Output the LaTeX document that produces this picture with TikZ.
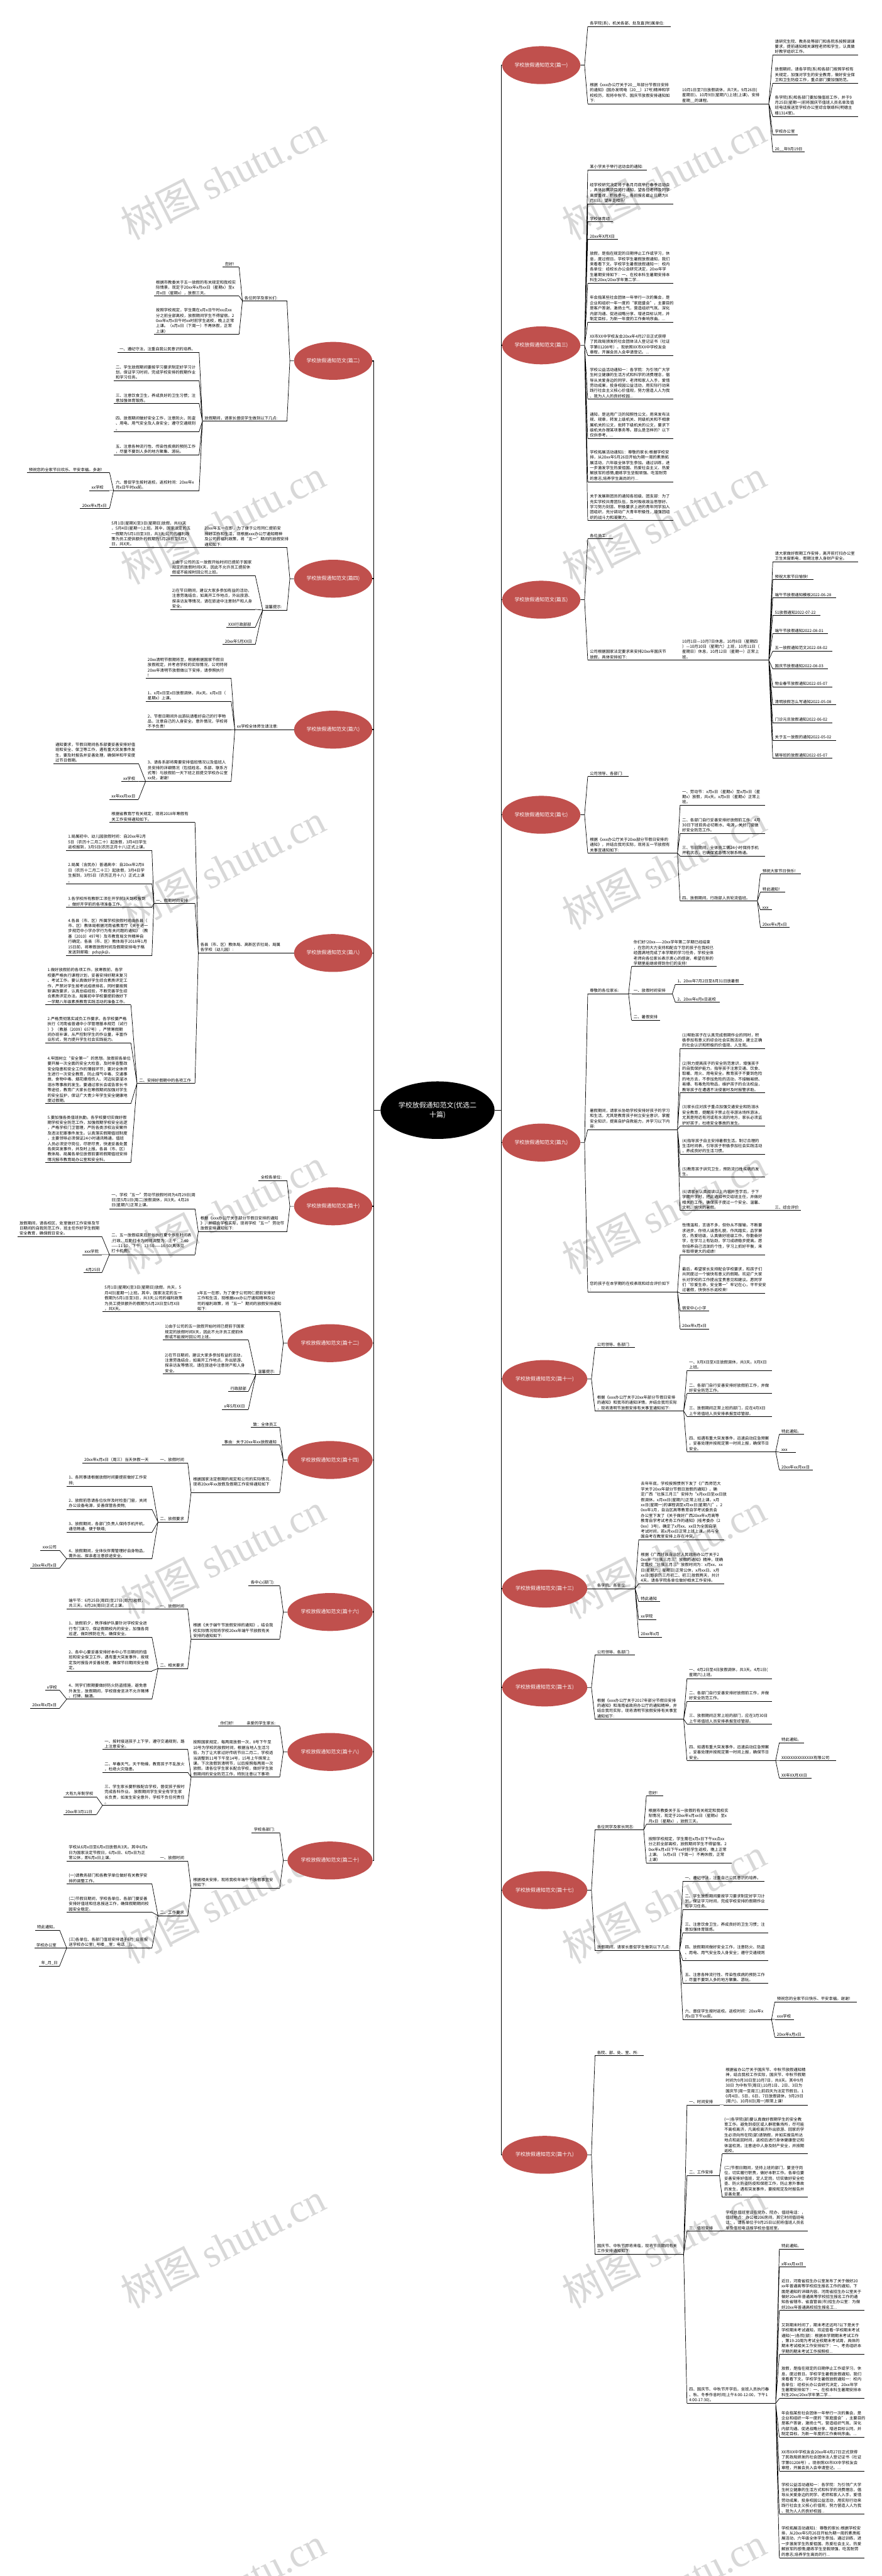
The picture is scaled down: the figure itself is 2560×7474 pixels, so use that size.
\documentclass[tikz,border=0pt]{standalone}
\usepackage{fontspec}
\setmainfont{Noto Sans CJK SC}
\newfontfamily\wmlatin{Liberation Serif}
\usetikzlibrary{shapes.geometric}
\definecolor{topicred}{RGB}{192,80,77}
\definecolor{wmgray}{RGB}{216,216,216}
\newcommand{\leaffont}{\fontsize{11.6}{15.3}\selectfont}
\tikzset{
  uline/.style={line width=1.3pt},
  link/.style={line width=1.3pt},
  spine/.style={line width=2.6pt},
  leaf/.style={font=\leaffont, align=left, inner xsep=6pt, inner ysep=3pt, text width=#1,
    append after command={(\tikzlastnode.south west) edge[uline] (\tikzlastnode.south east)}},
  rl/.style={leaf=#1, anchor=south west},
  ll/.style={leaf=#1, anchor=south east},
  topic/.style={ellipse, fill=topicred, text=white, font=\fontsize{14.5}{17}\selectfont, minimum width=227pt, minimum height=110pt, inner sep=0pt},
  wtopic/.style={topic, minimum width=247pt},
  root/.style={ellipse, fill=black, text=white, align=center, font=\fontsize{20}{27}\selectfont, minimum width=331pt, minimum height=167pt, inner sep=0pt},
  wmark/.style={rotate=27, text=wmgray, font=\fontsize{115}{115}\selectfont}
}
\begin{document}
\begin{tikzpicture}[x=1pt,y=-1pt]
\fill[white] (0,0) rectangle (2560,7474);
\useasboundingbox (0,0) rectangle (2560,7474);
\node[wmark] (wm1) at (647,514) {树图 {\wmlatin shutu.cn}};
\node[wmark] (wm2) at (1927,514) {树图 {\wmlatin shutu.cn}};
\node[wmark] (wm3) at (647,1514) {树图 {\wmlatin shutu.cn}};
\node[wmark] (wm4) at (1927,1514) {树图 {\wmlatin shutu.cn}};
\node[wmark] (wm5) at (647,2514) {树图 {\wmlatin shutu.cn}};
\node[wmark] (wm6) at (1927,2514) {树图 {\wmlatin shutu.cn}};
\node[wmark] (wm7) at (647,3514) {树图 {\wmlatin shutu.cn}};
\node[wmark] (wm8) at (1927,3514) {树图 {\wmlatin shutu.cn}};
\node[wmark] (wm9) at (647,4514) {树图 {\wmlatin shutu.cn}};
\node[wmark] (wm10) at (1927,4514) {树图 {\wmlatin shutu.cn}};
\node[wmark] (wm11) at (647,5514) {树图 {\wmlatin shutu.cn}};
\node[wmark] (wm12) at (1927,5514) {树图 {\wmlatin shutu.cn}};
\node[wmark] (wm13) at (647,6514) {树图 {\wmlatin shutu.cn}};
\node[wmark] (wm14) at (1927,6514) {树图 {\wmlatin shutu.cn}};
\node[wmark] (wm15) at (647,7514) {树图 {\wmlatin shutu.cn}};
\node[wmark] (wm16) at (1927,7514) {树图 {\wmlatin shutu.cn}};

\node[root] (root) at (1270,3221) {学校放假通知范文(优选二\\十篇)};
\node[topic] (t1) at (1571,189) {学校放假通知范文(篇一)};
\node[topic] (t3) at (1571,1002) {学校放假通知范文(篇三)};
\node[topic] (t5) at (1571,1740) {学校放假通知范文(篇五)};
\node[topic] (t7) at (1571,2364) {学校放假通知范文(篇七)};
\node[topic] (t9) at (1571,3315) {学校放假通知范文(篇九)};
\node[wtopic] (t11) at (1581,4001) {学校放假通知范文(篇十一)};
\node[wtopic] (t13) at (1581,4609) {学校放假通知范文(篇十三)};
\node[wtopic] (t15) at (1581,4896) {学校放假通知范文(篇十五)};
\node[wtopic] (t17) at (1581,5484) {学校放假通知范文(篇十七)};
\node[wtopic] (t19) at (1581,6252) {学校放假通知范文(篇十九)};
\node[topic] (t2) at (967,1047) {学校放假通知范文(篇二)};
\node[topic] (t4) at (967,1679) {学校放假通知范文(篇四)};
\node[topic] (t6) at (967,2117) {学校放假通知范文(篇六)};
\node[topic] (t8) at (967,2765) {学校放假通知范文(篇八)};
\node[topic] (t10) at (967,3500) {学校放假通知范文(篇十)};
\node[wtopic] (t12) at (958,3897) {学校放假通知范文(篇十二)};
\node[wtopic] (t14) at (958,4236) {学校放假通知范文(篇十四)};
\node[wtopic] (t16) at (958,4677) {学校放假通知范文(篇十六)};
\node[wtopic] (t18) at (958,5083) {学校放假通知范文(篇十八)};
\node[wtopic] (t20) at (958,5398) {学校放假通知范文(篇二十)};

\draw[spine] (root.east) -- ++(20,0) |- (t1.west) (root.east) -- ++(20,0) |- (t3.west) (root.east) -- ++(20,0) |- (t5.west) (root.east) -- ++(20,0) |- (t7.west) (root.east) -- ++(20,0) |- (t9.west);
\draw[spine] (root.east) -- ++(20,0) |- (t11.west) (root.east) -- ++(20,0) |- (t13.west) (root.east) -- ++(20,0) |- (t15.west) (root.east) -- ++(20,0) |- (t17.west) (root.east) -- ++(20,0) |- (t19.west);
\draw[spine] (root.west) -- ++(-20,0) |- (t2.east) (root.west) -- ++(-20,0) |- (t4.east) (root.west) -- ++(-20,0) |- (t6.east) (root.west) -- ++(-20,0) |- (t8.east) (root.west) -- ++(-20,0) |- (t10.east);
\draw[spine] (root.west) -- ++(-20,0) |- (t12.east) (root.west) -- ++(-20,0) |- (t14.east) (root.west) -- ++(-20,0) |- (t16.east) (root.west) -- ++(-20,0) |- (t18.east) (root.west) -- ++(-20,0) |- (t20.east);

\node[rl=228pt] (t1a) at (1706,77) {各学院(系)，机关各部、处及直(附)属单位:};
\node[rl=248pt] (t1b) at (1706,301) {根据《xxx办公厅关于20\_\_年部分节假日安排\\的通知》(国办发明电〔20\_\_〕17号)精神和学\\校校历，现将中秋节、国庆节放假安排通知如\\下:};
\node[rl=245pt] (t1b1) at (1974,301) {10月1日至7日放假调休，共7天。9月26日(\\星期日)、10月9日(星期六)上班(上课)，安排\\星期\_\_的课程。};
\node[rl=235pt] (t1b1a) at (2243,159) {请研究生院、教务处等部门和各院系按照调课\\要求，提前通知相关课程老师和学生，认真做\\好教学组织工作。};
\node[rl=235pt] (t1b1b) at (2243,241) {放假期间，请各学院(系)和各部门按照学校有\\关规定，加强对学生的安全教育，做好安全保\\卫和卫生防疫工作，重点部门要加强防范。};
\node[rl=235pt] (t1b1c) at (2243,338) {各学院(系)和各部门要加强值班工作，并于9\\月25日(星期一)前将国庆节值班人员名单及值\\班电话报送至学校办公室综合联络科(明德主\\楼1314室)。};
\node[rl=60pt] (t1b1d) at (2243,391) {学校办公室};
\node[rl=80pt] (t1b1e) at (2243,441) {20\_\_年9月19日};
\draw[link] (t1.east) -- ++(12,0) -- (t1a.south west) (t1.east) -- ++(12,0) -- (t1b.south west);
\draw[link] (t1b.south east) -- (t1b1.south west);
\draw[link] (t1b1.south east) -- (t1b1a.south west) (t1b1.south east) -- (t1b1b.south west) (t1b1.south east) -- (t1b1c.south west) (t1b1.south east) -- (t1b1d.south west) (t1b1.south east) -- (t1b1e.south west);

\node[rl=160pt] (t3a) at (1706,493) {某小学关于举行运动会的通知:};
\node[rl=235pt] (t3b) at (1706,591) {经学校研究决定将于本月月底举行春季运动会\\，具体比赛项目另行通知，望各位老师及同学\\高度重视，积极参与，各班报名截止日期为X\\月X日。望奔走相告!};
\node[rl=60pt] (t3c) at (1706,643) {学校体育组};
\node[rl=76pt] (t3d) at (1706,694) {20xx年X月X日};
\node[rl=235pt] (t3e) at (1706,822) {放假，是指在规定的日期停止工作或学习，休\\息，度过假日。学校学生暑假放假通知，我们\\来看看下文。学校学生暑假放假通知一：校内\\各单位：经校长办公会研究决定，20xx年学\\生暑期安排如下：一、在校本科生暑期安排本\\科生20xx/20xx学年第二学...};
\node[rl=235pt] (t3f) at (1706,934) {年会指某些社会团体一年举行一次的集会，是\\企业和组织一年一度的“家庭盛会”，主要目的\\是客户答谢，激扬士气，营造组织气氛、深化\\内部沟通、促进战略分享、增进目标认同，并\\制定目标，为新一年度的工作奏响序曲。...};
\node[rl=235pt] (t3g) at (1706,1031) {XX市XX中学校友会20xx年4月27日正式获得\\了民政局颁发的社会团体法人登记证书（社证\\字第01208号）。现依照XX市XX中学校友会\\章程，开展会员入会申请登记。...};
\node[rl=235pt] (t3h) at (1706,1158) {学校公益活动通知一：各学院：为引领广大学\\生树立健康的生活方式和科学的消费理念，倡\\导从关爱身边的同学、老师和家人入手，爱惜\\劳动成果，投身校园公益活动，用实际行动来\\践行社会主义核心价值观，努力营造人人为我\\、我为人人的良好校园...};
\node[rl=235pt] (t3i) at (1706,1272) {通知，是运用广泛的知照性公文。用来发布法\\规、规章，转发上级机关、同级机关和不相隶\\属机关的公文，批转下级机关的公文，要求下\\级机关办理某项事务等。那么是怎样的？以下\\仅供参考。...};
\node[rl=235pt] (t3j) at (1706,1398) {学校拓展活动通知1：尊敬的家长:根据学校安\\排，从20xx年5月26日开始为期一周的素质拓\\展活动，六年级全体学生参加。通过训练，进\\一步激发学生热爱祖国、热爱社会主义、热爱\\解放军的感情;磨练学生坚毅顽强、吃苦耐劳\\的意志;培养学生高尚的行...};
\node[rl=235pt] (t3k) at (1706,1510) {关于发展新团员的通知各班级、团支部：为了\\充实学校共青团队伍，及时吸收政治思想好、\\学习努力刻苦、积极要求上进的青年同学加入\\团组织，充分调动广大青年积极性，增强团组\\织的战斗力和凝聚力。...};
\draw[link] (t3.east) -- ++(12,0) -- (t3a.south west) (t3.east) -- ++(12,0) -- (t3b.south west) (t3.east) -- ++(12,0) -- (t3c.south west) (t3.east) -- ++(12,0) -- (t3d.south west) (t3.east) -- ++(12,0) -- (t3e.south west) (t3.east) -- ++(12,0) -- (t3f.south west);
\draw[link] (t3.east) -- ++(12,0) -- (t3g.south west) (t3.east) -- ++(12,0) -- (t3h.south west) (t3.east) -- ++(12,0) -- (t3i.south west) (t3.east) -- ++(12,0) -- (t3j.south west) (t3.east) -- ++(12,0) -- (t3k.south west);

\node[rl=60pt] (t5a) at (1706,1563) {各位员工:};
\node[rl=248pt] (t5b) at (1706,1915) {公司根据国家法定要求来安排20xx年国庆节\\放假，具体安排如下:};
\node[rl=245pt] (t5b1) at (1974,1915) {10月1日—10月7日休息，10月8日（星期四\\）—10月10日（星期六）上班，10月11日（\\星期日）休息，10月12日（星期一）正常上\\班。};
\node[rl=235pt] (t5b1a) at (2243,1630) {请大家做好假期工作安排，离开前打扫办公室\\卫生关窗断电，假期注意人身财产安全。};
\node[rl=105pt] (t5b1b) at (2243,1682) {预祝大家节日愉快!};
\node[rl=171pt] (t5b1c) at (2243,1734) {端午节放假通知模板2022-06-28};
\node[rl=126pt] (t5b1d) at (2243,1786) {51放假通知2022-07-22};
\node[rl=147pt] (t5b1e) at (2243,1838) {端午节放假通知2022-08-01};
\node[rl=160pt] (t5b1f) at (2243,1889) {五一放假通知范文2022-08-02};
\node[rl=147pt] (t5b1g) at (2243,1941) {国庆节放假通知2022-08-03};
\node[rl=160pt] (t5b1h) at (2243,1993) {物业春节放假通知2022-05-07};
\node[rl=171pt] (t5b1i) at (2243,2045) {清明放假怎么写通知2022-05-08};
\node[rl=160pt] (t5b1j) at (2243,2097) {门诊元旦放假通知2022-06-02};
\node[rl=171pt] (t5b1k) at (2243,2148) {关于五一放假的通知2022-05-02};
\node[rl=160pt] (t5b1l) at (2243,2200) {辅导班的放假通知2022-05-07};
\draw[link] (t5.east) -- ++(12,0) -- (t5a.south west) (t5.east) -- ++(12,0) -- (t5b.south west);
\draw[link] (t5b.south east) -- (t5b1.south west);
\draw[link] (t5b1.south east) -- (t5b1a.south west) (t5b1.south east) -- (t5b1b.south west) (t5b1.south east) -- (t5b1c.south west) (t5b1.south east) -- (t5b1d.south west) (t5b1.south east) -- (t5b1e.south west) (t5b1.south east) -- (t5b1f.south west);
\draw[link] (t5b1.south east) -- (t5b1g.south west) (t5b1.south east) -- (t5b1h.south west) (t5b1.south east) -- (t5b1i.south west) (t5b1.south east) -- (t5b1j.south west) (t5b1.south east) -- (t5b1k.south west) (t5b1.south east) -- (t5b1l.south west);

\node[rl=106pt] (t7a) at (1706,2253) {公司领导、各部门:};
\node[rl=248pt] (t7b) at (1706,2475) {根据《xxx办公厅关于20xx部分节假日安排的\\通知》，并结合我司实际，现将五一节放假有\\关事宜通知如下:};
\node[rl=235pt] (t7b1) at (1974,2336) {一、劳动节：x月x日（星期x）至x月x日（星\\期x）放假，共x天。x月x日（星期x）正常上\\班。};
\node[rl=235pt] (t7b2) at (1974,2418) {二、各部门自行妥善安排好放假前工作，4月\\30日下班前务必切断水、电源，关好门窗做\\好安全防范工作。};
\node[rl=235pt] (t7b3) at (1974,2484) {三、节日期间，全体员工需24小时保持手机\\开机状态，已确保紧急情况联系畅通。};
\node[rl=212pt] (t7b4) at (1974,2614) {四、放假期间，行政部人员轮流值班。};
\node[rl=106pt] (t7b4a) at (2207,2536) {预祝大家节日快乐!};
\node[rl=59pt] (t7b4b) at (2207,2588) {特此通知!};
\node[rl=22pt] (t7b4c) at (2207,2640) {xxx};
\node[rl=73pt] (t7b4d) at (2207,2691) {20xx年x月x日};
\draw[link] (t7.east) -- ++(12,0) -- (t7a.south west) (t7.east) -- ++(12,0) -- (t7b.south west);
\draw[link] (t7b.south east) -- (t7b1.south west) (t7b.south east) -- (t7b2.south west) (t7b.south east) -- (t7b3.south west) (t7b.south east) -- (t7b4.south west);
\draw[link] (t7b4.south east) -- (t7b4a.south west) (t7b4.south east) -- (t7b4b.south west) (t7b4.south east) -- (t7b4c.south west) (t7b4.south east) -- (t7b4d.south west);

\node[rl=106pt] (t9a) at (1706,2883) {尊敬的各位家长:};
\node[rl=235pt] (t9a1) at (1833,2804) {你们好!20xx——20xx学年第二学期已经结束\\，在您的大力支持和配合下您的孩子在我校已\\经圆满地完成了本学期的学习任务，学校全体\\老师向各位家长表示衷心的感谢，希望在新的\\学期里能继续得到你们的支持!};
\node[rl=106pt] (t9a2) at (1833,2883) {一、放假时间安排};
\node[rl=186pt] (t9a2a) at (1960,2856) {1、20xx年7月2日至8月31日放暑假};
\node[rl=116pt] (t9a2b) at (1960,2908) {2、20xx年x月x日返校};
\node[rl=71pt] (t9a3) at (1833,2960) {二、暑假安排};
\node[rl=248pt] (t9b) at (1706,3277) {暑假期间，请家长协助学校安排好孩子的学习\\和生活，尤其是教育孩子树立安全意识，掌握\\安全知识，提高自护自救能力，并学习以下内\\容:};
\node[rl=235pt] (t9b1) at (1974,3042) {(1)帮助孩子在认真完成假期作业的同时，积\\极参加有意义的综合社会实践活动，建立正确\\的社会认识和积极的价值观、人生观。};
\node[rl=235pt] (t9b2) at (1974,3170) {(2)努力提高孩子的安全防范意识，增强孩子\\的自我保护能力。指导孩子注意交通、饮食、\\取暖、用火、用电安全。教育孩子不要到危险\\的地方去，不参加危险的活动，不接触易燃、\\易爆、有毒危险物品，维护孩子的合法权益，\\教导孩子在遭遇不法侵害时及时报警求助。};
\node[rl=235pt] (t9b3) at (1974,3267) {(3)家长应对孩子重点加强交通安全和防溺水\\安全教育，提醒孩子禁止在非游泳场所游泳，\\尤其是附近有河或有水流的地方，家长必须监\\护好孩子，杜绝安全事故的发生。};
\node[rl=235pt] (t9b4) at (1974,3349) {(4)指导孩子自主安排暑假生活。制订合理的\\生活时间表，引导孩子积极参加社会实践活动\\，养成良好的生活习惯。};
\node[rl=235pt] (t9b5) at (1974,3415) {(5)教育孩子讲究卫生，预防流行性疾病的发\\生。};
\node[rl=245pt] (t9b6) at (1974,3512) {(6)请家长认真阅读以上内容并签字后，于下\\学期开学时，把此通知书交给班主任，并做好\\相关的工作，确保孩子度过一个安全、温馨、\\文明、愉快的暑假。};
\node[rl=70pt] (t9b6a) at (2243,3512) {三、综合评价};
\node[rl=248pt] (t9c) at (1706,3748) {您的孩子在本学期的在校表现和综合评价如下\\:};
\node[rl=235pt] (t9c1) at (1974,3640) {性情温和，言语不多，但你从不服输，不断要\\求进步。你待人诚恳礼貌，作风踏实，品学兼\\优，热爱班级，认真做好班级工作。你勤奋好\\学，在学习上有钻劲，学习成绩稳步提高。愿\\你培养自己活泼的个性，学习上抓好平衡，来\\年取得更大的成绩!};
\node[rl=235pt] (t9c2) at (1974,3752) {最后，希望家长支持配合学校要求，和孩子们\\共同度过一个愉快有意义的假期。欢迎广大家\\长对学校的工作提出宝贵意见和建议。愿同学\\们“珍爱生命，安全第一”牢记在心，平平安安\\过暑假，快快乐乐返校来!};
\node[rl=71pt] (t9c3) at (1974,3804) {宿安中心小学};
\node[rl=71pt] (t9c4) at (1974,3856) {20xx年x月x日};
\draw[link] (t9.east) -- ++(12,0) -- (t9a.south west) (t9.east) -- ++(12,0) -- (t9b.south west) (t9.east) -- ++(12,0) -- (t9c.south west);
\draw[link] (t9a.south east) -- (t9a1.south west) (t9a.south east) -- (t9a2.south west) (t9a.south east) -- (t9a3.south west);
\draw[link] (t9a2.south east) -- (t9a2a.south west) (t9a2.south east) -- (t9a2b.south west);
\draw[link] (t9b.south east) -- (t9b1.south west) (t9b.south east) -- (t9b2.south west) (t9b.south east) -- (t9b3.south west) (t9b.south east) -- (t9b4.south west) (t9b.south east) -- (t9b5.south west) (t9b.south east) -- (t9b6.south west);
\draw[link] (t9b6.south east) -- (t9b6a.south west);
\draw[link] (t9c.south east) -- (t9c1.south west) (t9c.south east) -- (t9c2.south west) (t9c.south east) -- (t9c3.south west) (t9c.south east) -- (t9c4.south west);

\node[rl=104pt] (t11a) at (1727,3909) {公司领导、各部门:};
\node[rl=245pt] (t11b) at (1727,4094) {根据《xxx办公厅关于20xx年部分节假日安排\\的通知》和我市的通知详情，并结合我司实际\\，现将清明节放假安排有关事宜通知如下:};
\node[rl=235pt] (t11b1) at (1994,3976) {一、X月X日至X日放假调休，共3天。X月X日\\上班。};
\node[rl=235pt] (t11b2) at (1994,4043) {二、各部门自行妥善安排好放假前工作，并做\\好安全防范工作。};
\node[rl=235pt] (t11b3) at (1994,4110) {三、放假期间正常上班的部门，应在4月X日\\上午将值班人员安排表报至综管部。};
\node[rl=245pt] (t11b4) at (1994,4212) {四、如遇有重大突发事件，迅速启动应急预案\\，妥善处理并按规定第一时间上报，确保节日\\安全。};
\node[rl=59pt] (t11b4a) at (2262,4161) {特此通知。};
\node[rl=35pt] (t11b4b) at (2262,4213) {xxx};
\node[rl=85pt] (t11b4c) at (2262,4265) {20xx年xx月xx日};
\draw[link] (t11.east) -- ++(12,0) -- (t11a.south west) (t11.east) -- ++(12,0) -- (t11b.south west);
\draw[link] (t11b.south east) -- (t11b1.south west) (t11b.south east) -- (t11b2.south west) (t11b.south east) -- (t11b3.south west) (t11b.south east) -- (t11b4.south west);
\draw[link] (t11b4.south east) -- (t11b4a.south west) (t11b4.south east) -- (t11b4b.south west) (t11b4.south east) -- (t11b4c.south west);

\node[rl=104pt] (t13a) at (1727,4609) {各学院、各单位:};
\node[rl=235pt] (t13a1) at (1854,4467) {去年年底，学校按照惯例下发了《广西师范大\\学关于20xx年部分节假日放假的通知》，确\\定广西“壮族三月三”安排为“x月xx日至xx日放\\假调休。x月xx日(星期六)正常上班上课，x月\\xx日(星期一)的课程调至x月xx日(星期六)”。2\\0xx年1月，自治区高等教育自学考试委员会\\办公室下发了《关于做好广西20xx年x月高等\\教育自学考试考务工作的通知》(桂考委办〔2\\0xx〕3号)，确定了x月xx、xx日为全国自学\\考试时间，若x月xx日正常上班上课，将与全\\国自考在教室安排上存在冲突。};
\node[rl=235pt] (t13a2) at (1854,4595) {根据《广西壮族自治区人民政府办公厅关于2\\0xx年“壮族三月三”放假的通知》精神，现确\\定我校“壮族三月三”放假时间为：x月xx、xx\\日(星期六、星期日)正常公休，x月xx日、x月\\xx日(即农历三月初二、初三)放假两天，共计\\4天。请各学院各单位做好相关工作安排。};
\node[rl=50pt] (t13a3) at (1854,4647) {特此通知};
\node[rl=38pt] (t13a4) at (1854,4699) {xx学院};
\node[rl=55pt] (t13a5) at (1854,4750) {20xx年x月};
\draw[link] (t13.east) -- ++(12,0) -- (t13a.south west);
\draw[link] (t13a.south east) -- (t13a1.south west) (t13a.south east) -- (t13a2.south west) (t13a.south east) -- (t13a3.south west) (t13a.south east) -- (t13a4.south west) (t13a.south east) -- (t13a5.south west);

\node[rl=104pt] (t15a) at (1727,4802) {公司领导、各部门:};
\node[rl=245pt] (t15b) at (1727,4988) {根据《xxx办公厅关于2017年部分节假日安排\\的通知》和海南省政府办公厅的通知精神，并\\结合我司实际，现将清明节放假安排有关事宜\\通知如下:};
\node[rl=235pt] (t15b1) at (1994,4870) {一、4月2日至4日放假调休，共3天。4月1日(\\星期六)上班。};
\node[rl=235pt] (t15b2) at (1994,4936) {二、各部门自行妥善安排好放假前工作，并做\\好安全防范工作。};
\node[rl=235pt] (t15b3) at (1994,5002) {三、放假期间正常上班的部门，应在3月30日\\上午将值班人员安排表报至综管部。};
\node[rl=245pt] (t15b4) at (1994,5108) {四、如遇有重大突发事件，迅速启动应急预案\\，妥善处理并按规定第一时间上报，确保节日\\安全。};
\node[rl=59pt] (t15b4a) at (2262,5056) {特此通知。};
\node[rl=153pt] (t15b4b) at (2262,5108) {XXXXXXXXXXXXXX有限公司};
\node[rl=81pt] (t15b4c) at (2262,5159) {XX年XX月XX日};
\draw[link] (t15.east) -- ++(12,0) -- (t15a.south west) (t15.east) -- ++(12,0) -- (t15b.south west);
\draw[link] (t15b.south east) -- (t15b1.south west) (t15b.south east) -- (t15b2.south west) (t15b.south east) -- (t15b3.south west) (t15b.south east) -- (t15b4.south west);
\draw[link] (t15b4.south east) -- (t15b4a.south west) (t15b4.south east) -- (t15b4b.south west) (t15b4.south east) -- (t15b4c.south west);

\node[rl=129pt] (t17a) at (1727,5309) {各位同学及家长同志:};
\node[rl=37pt] (t17a1) at (1876,5211) {您好!};
\node[rl=235pt] (t17a2) at (1876,5293) {根据市教委关于五一放假的有关规定和我校实\\际情况，现定于20xx年x月xx日（星期x）至x\\月x日（星期x），放假三天。};
\node[rl=235pt] (t17a3) at (1876,5405) {按照学校规定，学生需在x月x日下午xx点xx\\分之前全部离校，放假期间学生不得留宿。2\\0xx年x月x日下午xx时前学生返校，晚上正常\\上课。（x月x日（下周一）不再休假，正常\\上课）};
\node[rl=233pt] (t17b) at (1727,5659) {放假期间，请家长督促学生做到以下几点:};
\node[rl=225pt] (t17b1) at (1982,5458) {一、遵纪守法，注重自己公民意识的培养。};
\node[rl=235pt] (t17b2) at (1982,5540) {二、学生放假期间要按学习要求制定好学习计\\划，保证学习时间，完成学校安排的假期作业\\和学习任务。};
\node[rl=235pt] (t17b3) at (1982,5607) {三、注意饮食卫生，养成良好的卫生习惯；注\\意加强体育锻炼。};
\node[rl=235pt] (t17b4) at (1982,5689) {四、放假期间做好安全工作，注意防火、防盗\\、用电、用气安全及人身安全；遵守交通规则\\。};
\node[rl=235pt] (t17b5) at (1982,5754) {五、注意各种流行性、传染性疾病的预防工作\\，尽量不要到人多的地方聚集、游玩。};
\node[rl=245pt] (t17b6) at (1982,5859) {六、督促学生按时返校。返校时间：20xx年x\\月x日下午xx前。};
\node[rl=226pt] (t17b6a) at (2249,5808) {预祝您的全家节日快乐、平安幸福。谢谢!};
\node[rl=43pt] (t17b6b) at (2249,5859) {xxx学校};
\node[rl=74pt] (t17b6c) at (2249,5911) {20xx年x月x日};
\draw[link] (t17.east) -- ++(12,0) -- (t17a.south west) (t17.east) -- ++(12,0) -- (t17b.south west);
\draw[link] (t17a.south east) -- (t17a1.south west) (t17a.south east) -- (t17a2.south west) (t17a.south east) -- (t17a3.south west);
\draw[link] (t17b.south east) -- (t17b1.south west) (t17b.south east) -- (t17b2.south west) (t17b.south east) -- (t17b3.south west) (t17b.south east) -- (t17b4.south west) (t17b.south east) -- (t17b5.south west) (t17b.south east) -- (t17b6.south west);
\draw[link] (t17b6.south east) -- (t17b6a.south west) (t17b6.south east) -- (t17b6b.south west) (t17b6.south east) -- (t17b6c.south west);

\node[rl=129pt] (t19a) at (1727,5964) {各院、部、处、室、所:};
\node[rl=245pt] (t19b) at (1727,6540) {国庆节、中秋节即将来临，现将节日期间有关\\工作安排通知如下:};
\node[rl=82pt] (t19b1) at (1994,6107) {一、时间安排};
\node[rl=233pt] (t19b1a) at (2100,6107) {根据省办公厅关于国庆节、中秋节放假通知精\\神，结合我校工作实际，国庆节、中秋节假期\\时间为9月30日至10月7日，共8天。其中9月\\30日 为中秋节(周日);10月1日、2日、3日为\\国庆节(周一至周三);前四天为法定节假日。1\\0月4日、5日、6日、7日放假调休，9月29日\\(周六)、10月8日(周一)照常上课!};
\node[rl=82pt] (t19b2) at (1994,6312) {二、工作安排};
\node[rl=237pt] (t19b2a) at (2096,6249) {(一)各学院(部)要认真做好假期学生的安全教\\育工作。避免到疫区或人群密集场所，尽可能\\不离校离济，凡离校离济外出旅游、回家的学\\生必须向所在院(部)请销假，并如实报告所达\\地点和返回时间，返校后进行身体健康登记和\\体温检测。注意途中人身及财产安全，并按期\\返校。};
\node[rl=237pt] (t19b2b) at (2096,6375) {(二)节假日期间，坚持上班的部门，要坚守岗\\位，切实履行职责，做好本职工作。各单位要\\妥善安排好值班，定人定岗，切实做好安全检\\查、防火防盗防疫和保密工作，防止意外事故\\的发生，遇有突发事件，要按规定及时报告并\\妥善处置。};
\node[rl=82pt] (t19b3) at (1994,6473) {三、值班安排};
\node[rl=233pt] (t19b3a) at (2100,6473) {学校总值班室设在党办、院办，值班电话：，\\值班地点：办公楼206房间，其它时间值班电\\话：。请各单位于9月25日以前将值班人员名\\单及值班电话报学校总值班室。};
\node[rl=245pt] (t19b4) at (1994,6973) {四、国庆节、中秋节开学后，坐班人员执行春\\、秋、冬季作息时间(上午8:00-12:00，下午1\\4:00-17:30)。};
\node[rl=59pt] (t19b4a) at (2262,6525) {特此通知。};
\node[rl=65pt] (t19b4b) at (2262,6577) {x年xx月xx日};
\node[rl=235pt] (t19b4c) at (2262,6703) {近日，河南省招生办公室发布了关于做好20\\xx年普通高等学校招生报名工作的通知，下\\面是通知的详细内容。河南省招生办公室关于\\做好20xx年普通高等学校招生报名工作的通\\知各省辖市、省直管县(市)招生办公室：为做\\好20xx年普通高校招生报名工...};
\node[rl=235pt] (t19b4d) at (2262,6831) {又到期末时间了，期末考还远吗?以下是关于\\学校期末考试通知，欢迎查看\textasciitilde{}学校期末考试\\通知(一)各院(部)：根据本学期期末考试工作\\，第19-20周为考试全校期末考试周，具体的\\期末考试相关工作安排如下：一、考务组织本\\学期的期末考试工作按照校...};
\node[rl=235pt] (t19b4e) at (2262,6959) {放假，是指在规定的日期停止工作或学习，休\\息，度过假日。学校学生暑假放假通知，我们\\来看看下文。学校学生暑假放假通知一：校内\\各单位：经校长办公会研究决定，20xx年学\\生暑期安排如下：一、在校本科生暑期安排本\\科生20xx/20xx学年第二学...};
\node[rl=235pt] (t19b4f) at (2262,7071) {年会指某些社会团体一年举行一次的集会，是\\企业和组织一年一度的“家庭盛会”，主要目的\\是客户答谢，激扬士气，营造组织气氛、深化\\内部沟通、促进战略分享、增进目标认同，并\\制定目标，为新一年度的工作奏响序曲。...};
\node[rl=235pt] (t19b4g) at (2262,7169) {XX市XX中学校友会20xx年4月27日正式获得\\了民政局颁发的社会团体法人登记证书（社证\\字第01208号）。现依照XX市XX中学校友会\\章程，开展会员入会申请登记。...};
\node[rl=235pt] (t19b4h) at (2262,7294) {学校公益活动通知一：各学院：为引领广大学\\生树立健康的生活方式和科学的消费理念，倡\\导从关爱身边的同学、老师和家人入手，爱惜\\劳动成果，投身校园公益活动，用实际行动来\\践行社会主义核心价值观，努力营造人人为我\\、我为人人的良好校园...};
\node[rl=235pt] (t19b4i) at (2262,7421) {学校拓展活动通知1：尊敬的家长:根据学校安\\排，从20xx年5月26日开始为期一周的素质拓\\展活动，六年级全体学生参加。通过训练，进\\一步激发学生热爱祖国、热爱社会主义、热爱\\解放军的感情;磨练学生坚毅顽强、吃苦耐劳\\的意志;培养学生高尚的行...};
\draw[link] (t19.east) -- ++(12,0) -- (t19a.south west) (t19.east) -- ++(12,0) -- (t19b.south west);
\draw[link] (t19b.south east) -- (t19b1.south west) (t19b.south east) -- (t19b2.south west) (t19b.south east) -- (t19b3.south west) (t19b.south east) -- (t19b4.south west);
\draw[link] (t19b1.south east) -- (t19b1a.south west) (t19b2.south east) -- (t19b2a.south west) (t19b2.south east) -- (t19b2b.south west) (t19b3.south east) -- (t19b3a.south west);
\draw[link] (t19b4.south east) -- (t19b4a.south west) (t19b4.south east) -- (t19b4b.south west) (t19b4.south east) -- (t19b4c.south west) (t19b4.south east) -- (t19b4d.south west) (t19b4.south east) -- (t19b4e.south west);
\draw[link] (t19b4.south east) -- (t19b4f.south west) (t19b4.south east) -- (t19b4g.south west) (t19b4.south east) -- (t19b4h.south west) (t19b4.south east) -- (t19b4i.south west);

\node[ll=117pt] (t2a) at (833,873) {各位同学及家长们:};
\node[ll=35pt] (t2a1) at (694,775) {您好!};
\node[ll=235pt] (t2a2) at (694,859) {根据市教委关于五一放假的有关规定和我校实\\际情景，现定于20xx年x月xx日（星期x）至x\\月x日（星期x），放假三天。};
\node[ll=235pt] (t2a3) at (694,970) {按照学校规定，学生需在x月x日午时xx点xx\\分之前全部离校，放假期间学生不得留宿。2\\0xx年x月x日午时xx时前学生返校，晚上正常\\上课。（x月x日（下周一）不再休假，正常\\上课）};
\node[ll=233pt] (t2b) at (833,1222) {放假期间，请家长督促学生做到以下几点:};
\node[ll=225pt] (t2b1) at (578,1022) {一、遵纪守法，注重自我公民意识的培养。};
\node[ll=236pt] (t2b2) at (578,1104) {二、学生放假期间要按学习要求制定好学习计\\划，保证学习时间，完成学校安排的假期作业\\和学习任务。};
\node[ll=236pt] (t2b3) at (578,1171) {三、注意饮食卫生，养成良好的卫生习惯；注\\意加强体育锻炼。};
\node[ll=236pt] (t2b4) at (578,1252) {四、放假期间做好安全工作，注意防火、防盗\\、用电、用气安全及人身安全；遵守交通规则\\。};
\node[ll=236pt] (t2b5) at (578,1319) {五、注意各种流行性、传染性疾病的预防工作\\，尽量不要到人多的地方聚集、游玩。};
\node[ll=236pt] (t2b6) at (578,1423) {六、督促学生按时返校。返校时间：20xx年x\\月x日午时xx前。};
\node[ll=228pt] (t2b6a) at (318,1371) {预祝您的全家节日欢乐、平安幸福。多谢!};
\node[ll=46pt] (t2b6b) at (318,1423) {xx学校};
\node[ll=73pt] (t2b6c) at (318,1475) {20xx年x月x日};
\draw[link] (t2.west) -- ++(-12,0) -- (t2a.south east) (t2.west) -- ++(-12,0) -- (t2b.south east);
\draw[link] (t2a.south west) -- (t2a1.south east) (t2a.south west) -- (t2a2.south east) (t2a.south west) -- (t2a3.south east);
\draw[link] (t2b.south west) -- (t2b1.south east) (t2b.south west) -- (t2b2.south east) (t2b.south west) -- (t2b3.south east) (t2b.south west) -- (t2b4.south east) (t2b.south west) -- (t2b5.south east) (t2b.south west) -- (t2b6.south east);
\draw[link] (t2b6.south west) -- (t2b6a.south east) (t2b6.south west) -- (t2b6b.south east) (t2b6.south west) -- (t2b6c.south east);

\node[ll=233pt] (t4a) at (833,1588) {20xx年五一在即，为了便于公司同仁提前安\\排好工作和生活，现根据xxx办公厅通知精神\\及公司的福利政策，将“五一”期间的放假安排\\通知如下:};
\node[ll=248pt] (t4a1) at (578,1588) {5月1日(星期X)至3日(星期日)放假，共XX天\\，5月4日(星期一)上班。其中，国家法定的五\\一假期为5月1日至3日，共3天;公司的福利政\\策为员工提供额外的假期为5月2X日至5月X\\日，共X天。};
\node[ll=58pt] (t4b) at (833,1770) {温馨提示:};
\node[ll=235pt] (t4b1) at (741,1670) {1)由于公司的五一放假开始时间已提前于国家\\规定的放假时间X天，因此不允许员工提前休\\假或不能按时回公司上班。};
\node[ll=235pt] (t4b2) at (741,1768) {2)在节日期间，建议大家多参加有益的活动，\\注意劳逸结合，如离开工作地点，外出旅游、\\探亲访友等情况，请在旅途中注意财产和人身\\安全。};
\node[ll=72pt] (t4b3) at (741,1820) {XXX行政部部};
\node[ll=82pt] (t4b4) at (741,1870) {20xx年5月XX日};
\draw[link] (t4.west) -- ++(-12,0) -- (t4a.south east) (t4.west) -- ++(-12,0) -- (t4b.south east);
\draw[link] (t4a.south west) -- (t4a1.south east);
\draw[link] (t4b.south west) -- (t4b1.south east) (t4b.south west) -- (t4b2.south east) (t4b.south west) -- (t4b3.south east) (t4b.south west) -- (t4b4.south east);

\node[ll=139pt] (t6a) at (833,2117) {xx学校全体师生请注意:};
\node[ll=236pt] (t6a1) at (671,1968) {20xx清明节假期将至，根据根据国家节假日\\放假规定，并考虑学校的实际情况，公司特将\\20xx年清明节放假做以下安排，请参照执行\\!};
\node[ll=236pt] (t6a2) at (671,2035) {1、x月x日至x日放假调休，共x天。x月x日（\\星期x）上课。};
\node[ll=236pt] (t6a3) at (671,2117) {2、节假日期间外出游玩请看好自己的行李物\\品，注意自己的人身安全。意外情况，学校将\\不予负责!};
\node[ll=236pt] (t6a4) at (671,2267) {3、请各系部将需要安排值班情况以及值班人\\员安排的详细情况（包括姓名、系部、联系方\\式等）与放假前一天下班之前提交学校办公室\\xx处，谢谢!};
\node[ll=235pt] (t6a4a) at (402,2215) {通知要求，节假日期间各系部要妥善安排好值\\班和安全、保卫等工作，遇有重大突发事件发\\生，要及时报告并妥善处理，确保祥和平安度\\过节日假期。};
\node[ll=38pt] (t6a4b) at (402,2267) {xx学校};
\node[ll=72pt] (t6a4c) at (402,2319) {xx年xx月xx日};
\draw[link] (t6.west) -- ++(-12,0) -- (t6a.south east);
\draw[link] (t6a.south west) -- (t6a1.south east) (t6a.south west) -- (t6a2.south east) (t6a.south west) -- (t6a3.south east) (t6a.south west) -- (t6a4.south east);
\draw[link] (t6a4.south west) -- (t6a4a.south east) (t6a4.south west) -- (t6a4b.south east) (t6a4.south west) -- (t6a4c.south east);

\node[ll=245pt] (t8a) at (833,2765) {各县（市、区）教体局、高新区农社局，局属\\各学校（幼儿园）:};
\node[ll=236pt] (t8a1) at (566,2386) {根据省教育厅有关规定，现将2018年寒假有\\关工作安排通知如下。};
\node[ll=107pt] (t8a2) at (566,2621) {一、假期时间安排};
\node[ll=237pt] (t8a2a) at (441,2468) {1.局属初中、幼儿园放假时间：自20xx年2月\\5日（农历十二月二十）起放假，3月4日学生\\返校报到，3月5日(农历正月十八)正式上课。};
\node[ll=237pt] (t8a2b) at (441,2564) {2.局属（含民办）普通高中：自20xx年2月8\\日（农历十二月二十三）起放假，3月4日学\\生报到，3月5日（农历正月十八）正式上课\\。};
\node[ll=237pt] (t8a2c) at (441,2632) {3.各学校所有教职工须在开学前3天到校报到\\，做好开学前的各项准备工作。};
\node[ll=237pt] (t8a2d) at (441,2773) {4.各县（市、区）所属学校放假时间由各县（\\市、区）教体局根据河南省教育厅《关于进一\\步规范中小学办学行为有关问题的通知》（教\\基〔2010〕497号）及市教育局文件精神自\\行确定。各县（市、区）教体局于2018年1月\\15日前，将寒假放假时间及假期安排电子稿\\发送到邮箱：pdspjk@。};
\node[ll=156pt] (t8a3) at (566,3143) {二、安排好假期中的各项工作};
\node[ll=236pt] (t8a3a) at (380,2915) {1.做好放假前的各项工作。放寒假前，各学\\校要严格执行课程计划，妥善安排好期末复习\\、考试工作。要认真做好学生综合素质评定工\\作，严禁对学生按考试成绩排名，同时要按照\\新课改要求，认真总结经验，不断完善学生综\\合素质评定办法。局属初中学校要提前做好下\\一学期八年级素质教育实践活动的准备工作。};
\node[ll=236pt] (t8a3b) at (380,3026) {2.严格贯彻落实减负工作要求。各学校要严格\\执行《河南省普通中小学管理基本规范（试行\\）》（教基〔2009〕657号），严禁寒假期\\间办班补课，从严控制学生的作业量，丰富作\\业形式，努力提升学生社会实践能力。};
\node[ll=236pt] (t8a3c) at (380,3202) {4.牢固树立“安全第一”的思想。放假前各单位\\要开展一次全面的安全大检查，及时排查整改\\安全隐患和安全工作的薄弱环节；要对全体师\\生进行一次安全教育，防止煤气中毒、交通事\\故、食物中毒、烟花爆炮伤人、河边玩耍溜冰\\溺水等事故的发生。要通过家长会或告家长书\\等途径，教育广大家长在寒假期间加强对学生\\的安全监护，保证广大青少年学生安全健康地\\度过假期。};
\node[ll=236pt] (t8a3d) at (380,3373) {5.要加强各类值班执勤。各学校要切实做好假\\期学校安全防范工作，加强假期学校安全巡逻\\，严格学校门卫管理，严防各类涉校治安案件\\及违法犯罪事件发生。认真落实假期值班制度\\，主要领导必须保证24小时通讯畅通，值班\\人员必须坚守岗位，尽职尽责，快速妥善处置\\各类突发事件，并及时上报。各县（市、区）\\教体局、局属各单位放假前要将假期值班安排\\情况报市教育局办公室和安全科。};
\draw[link] (t8.west) -- ++(-12,0) -- (t8a.south east);
\draw[link] (t8a.south west) -- (t8a1.south east) (t8a.south west) -- (t8a2.south east) (t8a.south west) -- (t8a3.south east);
\draw[link] (t8a2.south west) -- (t8a2a.south east) (t8a2.south west) -- (t8a2b.south east) (t8a2.south west) -- (t8a2c.south east) (t8a2.south west) -- (t8a2d.south east);
\draw[link] (t8a3.south west) -- (t8a3a.south east) (t8a3.south west) -- (t8a3b.south east) (t8a3.south west) -- (t8a3c.south east) (t8a3.south west) -- (t8a3d.south east);

\node[ll=70pt] (t10a) at (833,3425) {全校各单位:};
\node[ll=245pt] (t10b) at (833,3573) {根据《xxx办公厅关于部分节假日安排的通知\\》，并结合学校实际，现将学校“五一”劳动节\\放假安排通知如下:};
\node[ll=236pt] (t10b1) at (566,3507) {一、学校“五一”劳动节放假时间为4月29日(周\\日)至5月1日(周二)放假调休，共3天。4月28\\日(星期六)正常上课。};
\node[ll=236pt] (t10b2) at (566,3640) {二、五一放假结束后开始执行夏令作息时间表\\;行政、后勤打卡为时间调整为：上午：7:40\\——11:10，下午：13:50——16:50(具体见\\打卡机旁)。};
\node[ll=233pt] (t10b2a) at (296,3588) {放假期间，请各校区、处室做好工作安排及节\\日期间的自我防范工作，班主任作好学生假期\\安全教育，确保假日安全。};
\node[ll=44pt] (t10b2b) at (296,3640) {xxx学院};
\node[ll=41pt] (t10b2c) at (296,3692) {4月25日};
\draw[link] (t10.west) -- ++(-12,0) -- (t10a.south east) (t10.west) -- ++(-12,0) -- (t10b.south east);
\draw[link] (t10b.south west) -- (t10b1.south east) (t10b.south west) -- (t10b2.south east);
\draw[link] (t10b2.south west) -- (t10b2a.south east) (t10b2.south west) -- (t10b2b.south east) (t10b2.south west) -- (t10b2c.south east);

\node[ll=233pt] (t12a) at (812,3806) {x年五一在即，为了便于公司同仁提前安排好\\工作和生活，现根据xxx办公厅通知精神及公\\司的福利政策，将“五一”期间的放假安排通知\\如下:};
\node[ll=249pt] (t12a1) at (559,3806) {5月1日(星期X)至3日(星期日)放假，共天，5\\月4日(星期一)上班。其中，国家法定的五一\\假期为5月1日至3日，共3天;公司的福利政策\\为员工提供额外的假期为5月2X日至5月X日\\，共X天。};
\node[ll=57pt] (t12b) at (812,3988) {温馨提示:};
\node[ll=236pt] (t12b1) at (721,3888) {1)由于公司的五一放假开始时间已提前于国家\\规定的放假时间X天，因此不允许员工提前休\\假或不能按时回公司上班。};
\node[ll=236pt] (t12b2) at (721,3986) {2)在节日期间，建议大家多参加有益的活动，\\注意劳逸结合，如离开工作地点，外出旅游、\\探亲访友等情况，请在旅途中注意财产和人身\\安全。};
\node[ll=46pt] (t12b3) at (721,4037) {行政部部};
\node[ll=64pt] (t12b4) at (721,4089) {x年5月XX日};
\draw[link] (t12.west) -- ++(-12,0) -- (t12a.south east) (t12.west) -- ++(-12,0) -- (t12b.south east);
\draw[link] (t12a.south west) -- (t12a1.south east);
\draw[link] (t12b.south west) -- (t12b1.south east) (t12b.south west) -- (t12b2.south east) (t12b.south west) -- (t12b3.south east) (t12b.south west) -- (t12b4.south east);

\node[ll=71pt] (t14a) at (812,4141) {致：全体员工};
\node[ll=155pt] (t14b) at (812,4192) {事由：关于20xx年xx放假通知};
\node[ll=245pt] (t14c) at (812,4330) {根据国家法定假期的规定和公司的实际情况，\\现将20xx年xx放假及假期工作安排通知如下\\:};
\node[ll=74pt] (t14c1) at (545,4244) {一、放假时间};
\node[ll=200pt] (t14c1a) at (451,4244) {20xx年x月x日（周三）当天休假一天};
\node[ll=74pt] (t14c2) at (545,4416) {二、放假要求};
\node[ll=235pt] (t14c2a) at (441,4312) {1、各同事请根据放假时间要提前做好工作安\\排;};
\node[ll=235pt] (t14c2b) at (441,4379) {2、放假前恳请各位伙伴及时检查门窗，关闭\\办公设备电源，妥善保管各类物;};
\node[ll=235pt] (t14c2c) at (441,4446) {3、放假期间，各部门负责人保持手机开机，\\通信畅通，便于联络;};
\node[ll=235pt] (t14c2d) at (441,4523) {4、放假期间，全体伙伴需管理好自身物品，\\需外出、探亲者注意旅途安全。};
\node[ll=43pt] (t14c2d1) at (173,4498) {xxx公司};
\node[ll=73pt] (t14c2d2) at (173,4550) {20xx年x月x日};
\draw[link] (t14.west) -- ++(-12,0) -- (t14a.south east) (t14.west) -- ++(-12,0) -- (t14b.south east) (t14.west) -- ++(-12,0) -- (t14c.south east);
\draw[link] (t14c.south west) -- (t14c1.south east) (t14c.south west) -- (t14c2.south east);
\draw[link] (t14c1.south west) -- (t14c1a.south east);
\draw[link] (t14c2.south west) -- (t14c2a.south east) (t14c2.south west) -- (t14c2b.south east) (t14c2.south west) -- (t14c2c.south east) (t14c2.south west) -- (t14c2d.south east);
\draw[link] (t14c2d.south west) -- (t14c2d1.south east) (t14c2d.south west) -- (t14c2d2.south east);

\node[ll=78pt] (t16a) at (812,4601) {各中心(部门):};
\node[ll=245pt] (t16b) at (812,4755) {根据《关于端午节放假安排的通知》，结合我\\校实际情况现将学校20xx年端午节放假有关\\安排的通知如下:};
\node[ll=74pt] (t16b1) at (545,4669) {一、放假时间};
\node[ll=245pt] (t16b1a) at (451,4669) {端午节：6月25日(周四)至27日(周六)放假，\\共三天。6月28(周日)正式上课。};
\node[ll=74pt] (t16b2) at (545,4841) {二、相关要求};
\node[ll=235pt] (t16b2a) at (441,4750) {1、放假前夕，秩序维护队要针对学校安全进\\行专门演习，保证假期校内的安全，加强各岗\\巡逻，做到预防在先，确保安全。};
\node[ll=235pt] (t16b2b) at (441,4848) {2、各中心要妥善安排好本中心节日期间的值\\班和安全保卫工作，遇有重大突发事件，按规\\定及时报告并妥善处理，确保节日期间安全稳\\定。};
\node[ll=235pt] (t16b2c) at (441,4930) {4、同学们假期要做好防火防盗措施，避免意\\外发生，放假期间，学校宿舍坚决不允许赌博\\、打牌、酗酒。};
\node[ll=30pt] (t16b2c1) at (173,4904) {x学校};
\node[ll=73pt] (t16b2c2) at (173,4956) {20xx年x月x日};
\draw[link] (t16.west) -- ++(-12,0) -- (t16a.south east) (t16.west) -- ++(-12,0) -- (t16b.south east);
\draw[link] (t16b.south west) -- (t16b1.south east) (t16b.south west) -- (t16b2.south east);
\draw[link] (t16b1.south west) -- (t16b1a.south east);
\draw[link] (t16b2.south west) -- (t16b2a.south east) (t16b2.south west) -- (t16b2b.south east) (t16b2.south west) -- (t16b2c.south east);
\draw[link] (t16b2c.south west) -- (t16b2c1.south east) (t16b2c.south west) -- (t16b2c2.south east);

\node[ll=90pt] (t18a) at (812,5008) {亲爱的学生家长:};
\node[ll=56pt] (t18a1) at (702,5008) {你们好!};
\node[ll=245pt] (t18b) at (812,5156) {按照国家规定，每两周放假一次，8号下午至\\10号为学校的放假时间，根据当地人生活习\\俗，为了让大家过好传统节日二月二，学校适\\当调整到11号下午至14号，15号上午照常上\\课。下次放假到清明节，以后按照每两周一次\\放假。请各位学生家长配合学校，做好学生放\\假期间的安全防范工作，特别注意以下事项:};
\node[ll=235pt] (t18b1) at (545,5076) {一、按时接送孩子上下学，遵守交通规则，路\\上注意安全。};
\node[ll=235pt] (t18b2) at (545,5142) {二、早春天气，天干物燥，教育孩子不乱放火\\，杜绝火灾隐患。};
\node[ll=235pt] (t18b3) at (545,5238) {三、学生家长要积极配合学校，督促孩子按时\\完成各科作业。 放假期间学生安全有学生家\\长负责，如发生安全意外，学校不负任何责任\\。};
\node[ll=84pt] (t18b3a) at (280,5213) {大有九年制学校};
\node[ll=84pt] (t18b3b) at (280,5265) {20xx年3月11日};
\draw[link] (t18.west) -- ++(-12,0) -- (t18a.south east) (t18.west) -- ++(-12,0) -- (t18b.south east);
\draw[link] (t18a.south west) -- (t18a1.south east);
\draw[link] (t18b.south west) -- (t18b1.south east) (t18b.south west) -- (t18b2.south east) (t18b.south west) -- (t18b3.south east);
\draw[link] (t18b3.south west) -- (t18b3a.south east) (t18b3.south west) -- (t18b3b.south east);

\node[ll=69pt] (t20a) at (812,5317) {学校各部门:};
\node[ll=245pt] (t20b) at (812,5478) {根据相关安排，现将我校年端午节放假事宜安\\排如下:};
\node[ll=74pt] (t20b1) at (545,5399) {一、放假时间};
\node[ll=245pt] (t20b1a) at (451,5399) {学校从6月x日至6月x日放假共3天。其中6月x\\日为国家法定节假日，6月x日、6月x日为正\\常公休，即6月x日上课。};
\node[ll=74pt] (t20b2) at (545,5558) {二、工作要求};
\node[ll=235pt] (t20b2a) at (441,5466) {(一)请教务部门和各教学单位做好有关教学安\\排的调整工作。};
\node[ll=235pt] (t20b2b) at (441,5548) {(二)节假日期间，学校各单位、各部门要妥善\\安排好值班和信息报送工作，确保假期期间校\\园安全稳定。};
\node[ll=235pt] (t20b2c) at (441,5652) {(三)各单位、各部门值班安排请于6月\_日前报\\送学校办公室(\_号楼\_\_室；电话\_\_)。};
\node[ll=59pt] (t20b2c1) at (173,5600) {特此通知。};
\node[ll=61pt] (t20b2c2) at (173,5652) {学校办公室};
\node[ll=47pt] (t20b2c3) at (173,5704) {年\_月\_日};
\draw[link] (t20.west) -- ++(-12,0) -- (t20a.south east) (t20.west) -- ++(-12,0) -- (t20b.south east);
\draw[link] (t20b.south west) -- (t20b1.south east) (t20b.south west) -- (t20b2.south east);
\draw[link] (t20b1.south west) -- (t20b1a.south east);
\draw[link] (t20b2.south west) -- (t20b2a.south east) (t20b2.south west) -- (t20b2b.south east) (t20b2.south west) -- (t20b2c.south east);
\draw[link] (t20b2c.south west) -- (t20b2c1.south east) (t20b2c.south west) -- (t20b2c2.south east) (t20b2c.south west) -- (t20b2c3.south east);
\end{tikzpicture}
\end{document}
